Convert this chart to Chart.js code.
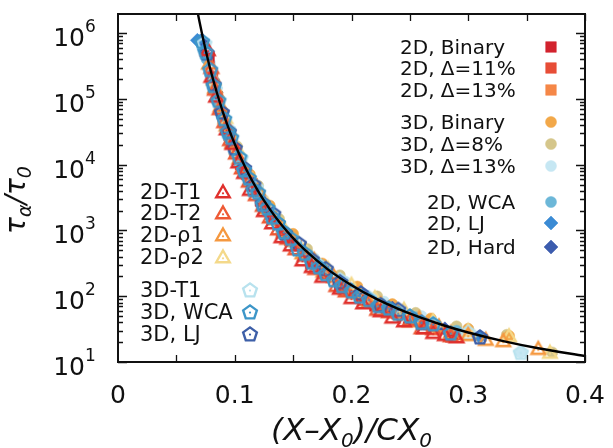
<!DOCTYPE html>
<html><head><meta charset="utf-8">
<script src="https://cdn.jsdelivr.net/npm/chart.js@4/dist/chart.umd.min.js"></script>
<style>html,body{margin:0;padding:0;background:#fff}canvas{display:block}</style>
</head><body>
<canvas id="c" width="613" height="448"></canvas>
<script>
// ---------- tick labels ----------
const xTickVals = [0, 0.1, 0.2, 0.3, 0.4];
const xTickLabels = ['0', '0.1', '0.2', '0.3', '0.4'];
const yTickVals = [10, 100, 1000, 10000, 100000, 1000000];
const yTickExps = ['1', '2', '3', '4', '5', '6'];

// ---------- fit curve ----------
const fitX = [0.0685,0.07,0.0725,0.075,0.0775,0.08,0.085,0.09,0.095,0.1,0.11,0.12,0.13,0.14,0.15,0.16,0.18,0.2,0.22,0.24,0.26,0.28,0.3,0.33,0.36,0.4];
const fitY = [1.96e6,1.44e6,8.85e5,5.61e5,3.66e5,2.46e5,1.19e5,6.22e4,3.48e4,2.07e4,8410,3970,2110,1220,764,506,254,147,93.5,64.3,46.8,35.6,28.1,20.8,16.2,12.3];

// ---------- open triangles ----------
const t1_2D_X = [0.077,0.08,0.084,0.093,0.098,0.103,0.108,0.113,0.125,0.132,0.14,0.148,0.158,0.166,0.175,0.19,0.2,0.21,0.225,0.235,0.245,0.262,0.27,0.28,0.29];
const t1_2D_Y = [5.6e5,2.2e5,1.1e5,3.5e4,2.1e4,1.1e4,7600,4200,2000,1300,800,600,355,282,200,132,95,79,60,48,42,33,28,26,24];
const t2_2D_X = [0.08,0.083,0.087,0.091,0.096,0.101,0.106,0.112,0.118,0.124,0.13,0.137,0.145,0.152,0.16,0.169,0.178,0.187,0.195,0.212,0.222,0.232,0.25,0.26,0.27,0.285];
const t2_2D_Y = [3.0e5,1.4e5,7.1e4,4.5e4,2.4e4,1.5e4,8900,5600,3500,2400,1600,1050,760,525,420,263,224,145,120,89,63,58,44,33,32,25];
const r1_2D_X = [0.078,0.083,0.088,0.093,0.098,0.104,0.11,0.12,0.127,0.135,0.142,0.15,0.158,0.168,0.176,0.185,0.195,0.205,0.215,0.225,0.24,0.25,0.258,0.275,0.285,0.3,0.315,0.33,0.36];
const r1_2D_Y = [3.5e5,1.5e5,7.9e4,4.0e4,2.2e4,1.26e4,7900,4200,2200,1500,950,710,457,363,240,200,132,112,83,76,58,42,46,35,28,26,22,21,16];
const r2_2D_X = [0.082,0.092,0.102,0.115,0.128,0.142,0.16,0.18,0.2,0.22,0.245,0.27,0.3,0.335,0.37];
const r2_2D_Y = [2.0e5,5.2e4,1.8e4,6000,2500,1100,525,263,151,95,63,42,30,25,14];

// ---------- open pentagons ----------
const t1_3D_X = [0.074,0.083,0.094,0.105,0.118,0.132,0.15,0.17,0.19,0.215,0.24,0.27,0.3,0.345];
const t1_3D_Y = [7.0e5,1.4e5,3.5e4,1.26e4,4500,1800,710,316,178,95,60,38,28,14];
const wca_3D_X = [0.072,0.075,0.079,0.082,0.086,0.091,0.094,0.097,0.104,0.108,0.112,0.116,0.12,0.124,0.128,0.132,0.137,0.142,0.148,0.154,0.16,0.166,0.172,0.178,0.185,0.192,0.2,0.207,0.215,0.223,0.232,0.24,0.25,0.26,0.27,0.285];
const wca_3D_Y = [7.5e5,5.2e5,2.8e5,1.6e5,9.5e4,5.0e4,3.2e4,2.6e4,1.3e4,8300,6300,4200,3800,2500,2200,1600,1300,950,760,525,450,330,280,220,178,145,120,100,89,72,66,55,50,40,38,27.5];
const lj_3D_X = [0.076,0.082,0.089,0.095,0.1,0.108,0.116,0.124,0.133,0.143,0.155,0.166,0.178,0.19,0.208,0.225,0.24,0.26,0.31];
const lj_3D_Y = [5.0e5,1.66e5,6.3e4,3.2e4,1.8e4,8900,5000,2600,1800,910,630,363,263,166,112,74,63,40,24];

// ---------- filled squares ----------
const bin_2D_X = [0.078,0.09,0.105,0.122,0.14,0.165,0.19,0.22,0.25,0.285];
const bin_2D_Y = [4.2e5,5.0e4,1.0e4,2800,950,316,141,71,42,24];
const d11_2D_X = [0.081,0.095,0.11,0.127,0.147,0.17,0.198,0.23,0.262,0.29];
const d11_2D_Y = [2.2e5,2.8e4,7100,2200,710,282,120,60,38,26];
const d13_2D_X = [0.085,0.1,0.115,0.132,0.153,0.178,0.208,0.24,0.275];
const d13_2D_Y = [1.1e5,1.6e4,5200,1700,600,240,100,52,32];

// ---------- filled circles ----------
const bin_3D_X = [0.083,0.097,0.113,0.13,0.15,0.175,0.205,0.235,0.268,0.3,0.335];
const bin_3D_Y = [1.8e5,2.8e4,7100,2400,890,316,141,76,46,32,25];
const d8_3D_X = [0.087,0.102,0.12,0.138,0.162,0.19,0.222,0.255,0.29,0.333,0.372];
const d8_3D_Y = [1.0e5,1.9e4,4800,1500,525,209,100,56,35,26,14];
const d13_3D_X = [0.079,0.092,0.108,0.124,0.143,0.168,0.195,0.228,0.26,0.3,0.345];
const d13_3D_Y = [3.5e5,4.8e4,9500,3000,1000,380,166,83,50,32,14];
const wca_2D_X = [0.07,0.073,0.076,0.079,0.082,0.085,0.088,0.091,0.095,0.099,0.103,0.107,0.111,0.116,0.122,0.128,0.134,0.14,0.146,0.153,0.16,0.17,0.18,0.19,0.2,0.212,0.225,0.24,0.255,0.27,0.29];
const wca_2D_Y = [7.9e5,6.0e5,4.0e5,2.3e5,1.4e5,9.0e4,6.0e4,4.0e4,2.5e4,1.6e4,1.1e4,8000,6300,4400,3200,2200,1500,1100,830,620,457,330,240,180,132,100,79,60,48,38,30];

// ---------- filled diamonds ----------
const lj_2D_X = [0.068,0.074,0.081,0.093,0.108,0.126,0.148,0.175,0.21,0.25,0.31];
const lj_2D_Y = [7.8e5,5.6e5,2.0e5,3.5e4,8300,2500,760,282,105,50,24];
const hard_2D_X = [0.072,0.084,0.099,0.117,0.138,0.163,0.195,0.235,0.28];
const hard_2D_Y = [7.9e5,1.26e5,2.0e4,4800,1300,417,151,66,32];

// ---------- legends ----------
const legendRight = ['2D, Binary','2D, Δ=11%','2D, Δ=13%','3D, Binary','3D, Δ=8%','3D, Δ=13%','2D, WCA','2D, LJ','2D, Hard'];
const legendLeft = ['2D-T1','2D-T2','2D-ρ1','2D-ρ2','3D-T1','3D, WCA','3D, LJ'];

function makeMarker(shape, color) {
  const s = 20, c = document.createElement('canvas');
  c.width = s; c.height = s;
  const g = c.getContext('2d');
  g.strokeStyle = color; g.fillStyle = color; g.lineWidth = 2.4; g.lineJoin = 'miter';
  const n = shape === 'tri' ? 3 : 5;
  const cx = 10, cy = shape === 'tri' ? 11.3 : 10.6, r = shape === 'tri' ? 7.8 : 7.2;
  g.beginPath();
  for (let k = 0; k < n; k++) {
    const a = -Math.PI / 2 + k * 2 * Math.PI / n;
    const px = cx + r * Math.cos(a), py = cy + r * Math.sin(a);
    if (k) g.lineTo(px, py); else g.moveTo(px, py);
  }
  g.closePath(); g.stroke();
  g.beginPath(); g.arc(cx, cy, 1.1, 0, 2 * Math.PI); g.fill();
  return c;
}

function ds(label, xs, ys, style) {
  return Object.assign({ label, data: xs.map((v, i) => ({ x: v, y: ys[i] })), showLine: false, borderWidth: 1 }, style);
}
function filled(shape, color, radius) {
  return { pointStyle: shape, pointRadius: radius, pointBackgroundColor: color, pointBorderColor: color, pointBorderWidth: 0.5 };
}
function open(shape, color) {
  return { pointStyle: makeMarker(shape, color), pointRadius: 9 };
}

const styles = {
  '2D-T1': open('tri', '#e0302c'),
  '2D-T2': open('tri', '#ee5a35'),
  '2D-ρ1': open('tri', '#f5983f'),
  '2D-ρ2': open('tri', '#f4d98a'),
  '3D-T1': open('pent', '#b8e2ee'),
  '3D, WCA': open('pent', '#3d96c8'),
  '3D, LJ': open('pent', '#3d5fa8'),
  '2D, Binary': filled('rect', '#d2232e', 7.5),
  '2D, Δ=11%': filled('rect', '#e74d37', 7.5),
  '2D, Δ=13%': filled('rect', '#f58747', 7.5),
  '3D, Binary': filled('circle', '#f2a849', 5.5),
  '3D, Δ=8%': filled('circle', '#d5c68b', 5.5),
  '3D, Δ=13%': filled('circle', '#c6e7f3', 5.5),
  '2D, WCA': filled('circle', '#6cb7d8', 5.5),
  '2D, LJ': filled('rectRot', '#3b8bd4', 7),
  '2D, Hard': filled('rectRot', '#3c5cae', 7)
};

const datasets = [
  { label: 'fit', data: fitX.map((v, i) => ({ x: v, y: fitY[i] })), showLine: true, borderColor: '#000', borderWidth: 2.4, pointRadius: 0, cubicInterpolationMode: 'monotone' },
  ds('3D, WCA', wca_3D_X, wca_3D_Y, styles['3D, WCA']),
  ds('2D-T1', t1_2D_X, t1_2D_Y, styles['2D-T1']),
  ds('3D, LJ', lj_3D_X, lj_3D_Y, styles['3D, LJ']),
  ds('2D-T2', t2_2D_X, t2_2D_Y, styles['2D-T2']),
  ds('2D-ρ1', r1_2D_X, r1_2D_Y, styles['2D-ρ1']),
  ds('3D-T1', t1_3D_X, t1_3D_Y, styles['3D-T1']),
  ds('2D-ρ2', r2_2D_X, r2_2D_Y, styles['2D-ρ2']),
  ds('2D, LJ', lj_2D_X, lj_2D_Y, styles['2D, LJ']),
  ds('2D, Hard', hard_2D_X, hard_2D_Y, styles['2D, Hard']),
  ds('2D, WCA', wca_2D_X, wca_2D_Y, styles['2D, WCA']),
  ds('2D, Binary', bin_2D_X, bin_2D_Y, styles['2D, Binary']),
  ds('2D, Δ=11%', d11_2D_X, d11_2D_Y, styles['2D, Δ=11%']),
  ds('2D, Δ=13%', d13_2D_X, d13_2D_Y, styles['2D, Δ=13%']),
  ds('3D, Binary', bin_3D_X, bin_3D_Y, styles['3D, Binary']),
  ds('3D, Δ=8%', d8_3D_X, d8_3D_Y, styles['3D, Δ=8%']),
  ds('3D, Δ=13%', d13_3D_X, d13_3D_Y, styles['3D, Δ=13%'])
];

function drawMarker(ctx, label, x, y) {
  const st = styles[label];
  ctx.save();
  if (typeof st.pointStyle === 'object') {
    const im = st.pointStyle;
    ctx.drawImage(im, x - im.width / 2, y - im.height / 2);
  } else {
    ctx.fillStyle = st.pointBackgroundColor; ctx.strokeStyle = st.pointBorderColor; ctx.lineWidth = st.pointBorderWidth;
    if (Chart.helpers && Chart.helpers.drawPoint) {
      Chart.helpers.drawPoint(ctx, { pointStyle: st.pointStyle, radius: st.pointRadius, borderWidth: st.pointBorderWidth, rotation: 0 }, x, y);
    }
  }
  ctx.restore();
}

function drawPieces(ctx, pieces, cx, baseline) {
  let total = 0;
  pieces.forEach(p => { ctx.font = p.f; p.w = ctx.measureText(p.t).width; total += p.w; });
  let x = cx - total / 2;
  ctx.textAlign = 'left'; ctx.textBaseline = 'alphabetic';
  pieces.forEach(p => { ctx.font = p.f; ctx.fillText(p.t, x, baseline + (p.dy || 0)); x += p.w; });
}

const F = '"DejaVu Sans", sans-serif';
const framePlugin = {
  id: 'frame',
  afterDatasetsDraw(chart) {
    const { ctx, chartArea: a, scales: { x, y } } = chart;
    ctx.save();
    ctx.strokeStyle = '#111'; ctx.fillStyle = '#111';
    ctx.lineWidth = 1.3;
    ctx.beginPath();
    for (let v = 0.05; v < 0.4; v += 0.05) {
      const px = Math.round(x.getPixelForValue(v)) + 0.5;
      ctx.moveTo(px, a.bottom); ctx.lineTo(px, a.bottom - 7);
      ctx.moveTo(px, a.top); ctx.lineTo(px, a.top + 7);
    }
    for (let e = 1; e <= 6; e++) {
      for (let m = 1; m <= 9; m++) {
        const v = m * Math.pow(10, e);
        if (v > y.max) break;
        const py = Math.round(y.getPixelForValue(v)) + 0.5;
        const len = m === 1 ? 9 : 5;
        ctx.moveTo(a.left, py); ctx.lineTo(a.left + len, py);
        ctx.moveTo(a.right, py); ctx.lineTo(a.right - len, py);
      }
    }
    ctx.stroke();
    ctx.lineWidth = 2;
    ctx.strokeRect(a.left, a.top, a.right - a.left, a.bottom - a.top);
    // x tick labels
    ctx.font = '25px ' + F; ctx.textAlign = 'center'; ctx.textBaseline = 'alphabetic';
    xTickVals.forEach((v, i) => ctx.fillText(xTickLabels[i], x.getPixelForValue(v), 403));
    // y tick labels
    yTickVals.forEach((v, i) => {
      const py = y.getPixelForValue(v);
      ctx.font = '25px ' + F; ctx.textAlign = 'right';
      ctx.fillText('10', 85, py + 13);
      ctx.font = '17px ' + F; ctx.textAlign = 'left';
      ctx.fillText(yTickExps[i], 85, py - 1);
    });
    // x title
    const I = 'italic 31px ' + F, S = 'italic 20px ' + F;
    drawPieces(ctx, [{ t: '(X–X', f: I }, { t: '0', f: S, dy: 7 }, { t: ')/CX', f: I }, { t: '0', f: S, dy: 7 }], (a.left + a.right) / 2, 440);
    // y title
    ctx.save();
    ctx.translate(0, 200); ctx.rotate(-Math.PI / 2);
    const I2 = 'italic 28px ' + F, S2 = 'italic 19px ' + F;
    drawPieces(ctx, [{ t: 'τ', f: I2 }, { t: 'α', f: S2, dy: 6 }, { t: '/τ', f: I2 }, { t: '0', f: S2, dy: 6 }], 0, 25);
    ctx.restore();
    // right legend
    const rowsR = [47, 68, 90, 122, 144, 166, 202, 223, 247];
    ctx.font = '20px ' + F; ctx.textAlign = 'left'; ctx.fillStyle = '#111';
    legendRight.forEach((lab, i) => {
      ctx.fillStyle = '#111';
      ctx.fillText(lab, i < 6 ? 400 : 427, rowsR[i] + 7);
      drawMarker(ctx, lab, 551, rowsR[i]);
    });
    // left legend
    const rowsL = [192, 213, 235, 257, 290, 312, 334];
    ctx.font = '21px ' + F;
    legendLeft.forEach((lab, i) => {
      ctx.fillStyle = '#111';
      ctx.fillText(lab, 140, rowsL[i] + 7);
      drawMarker(ctx, lab, i < 4 ? 223 : 250, rowsL[i]);
    });
    ctx.restore();
  }
};

new Chart(document.getElementById('c').getContext('2d'), {
  type: 'scatter',
  data: { datasets },
  options: {
    responsive: false, animation: false, devicePixelRatio: 1,
    layout: { padding: { left: 118, top: 14, right: 28, bottom: 86 } },
    plugins: { legend: { display: false }, tooltip: { enabled: false } },
    scales: {
      x: { type: 'linear', min: 0, max: 0.4, display: false },
      y: { type: 'logarithmic', min: 10, max: 1.96e6, display: false }
    }
  },
  plugins: [framePlugin]
});
</script>
</body></html>
